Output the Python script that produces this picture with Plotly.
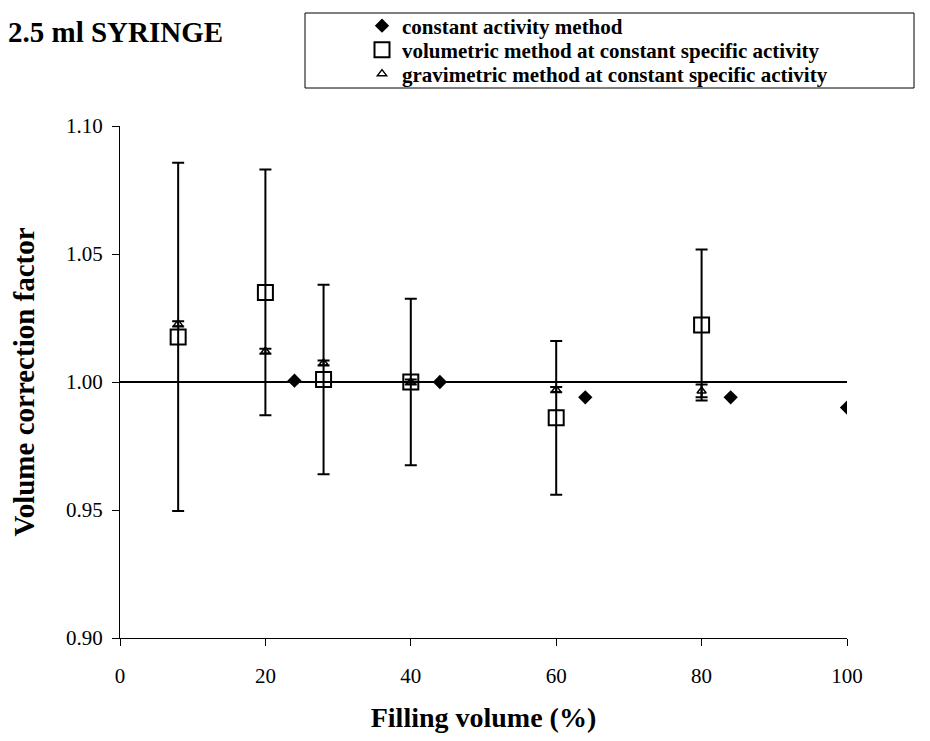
import plotly.graph_objects as go

# Filling volume (%)
x_const = [24, 44, 64, 84, 100]
y_const = [1.0005, 1.000, 0.994, 0.994, 0.990]

x_vol = [8, 20, 28, 40, 60, 80]
y_vol = [1.0176, 1.035, 1.001, 1.000, 0.986, 1.0223]
err_vol = [0.068, 0.048, 0.037, 0.0325, 0.030, 0.0295]

x_grav = [8, 20, 28, 40, 60, 80]
y_grav = [1.0227, 1.012, 1.0074, 1.000, 0.997, 0.9965]
err_grav = [0.001, 0.001, 0.001, 0.001, 0.001, 0.0025]

ref_x = [0, 100]
ref_y = [1.0, 1.0]

FONT = "Liberation Serif"
PX0, PW = 120, 727   # plot area left / width on screen
PY0, PH = 126, 512   # plot area top / height on screen


def px(xs):
    return (xs - PX0) / PW


def py(ys):
    return 1 + (PY0 - ys) / PH


fig = go.Figure()

fig.add_trace(go.Scatter(x=ref_x, y=ref_y, mode="lines",
                         line=dict(color="black", width=2),
                         showlegend=False, hoverinfo="skip"))

fig.add_trace(go.Scatter(
    x=x_const, y=y_const, mode="markers", name="constant activity method",
    legend="legend",
    marker=dict(symbol="diamond", size=11, color="black")))

fig.add_trace(go.Scatter(
    x=x_vol, y=y_vol, mode="markers",
    name="volumetric method at constant specific activity",
    legend="legend2",
    marker=dict(symbol="square-open", size=15, color="black", line=dict(width=2)),
    error_y=dict(type="data", array=err_vol, visible=True, color="black",
                 thickness=2, width=6)))

fig.add_trace(go.Scatter(
    x=x_grav, y=y_grav, mode="markers",
    name="gravimetric method at constant specific activity",
    legend="legend3",
    marker=dict(symbol="triangle-up-open", size=8, color="black", line=dict(width=1.5)),
    error_y=dict(type="data", array=err_grav, visible=True, color="black",
                 thickness=2, width=6)))

leg_font = dict(family=FONT, size=21, color="black", weight="bold")


def leg(ycen):
    return dict(x=px(362), y=py(ycen), xanchor="left", yanchor="middle",
                font=leg_font, bgcolor="rgba(0,0,0,0)", borderwidth=0)


fig.update_layout(
    width=930, height=741,
    margin=dict(l=112, r=91, t=118, b=111, autoexpand=False),
    paper_bgcolor="white", plot_bgcolor="white",
    font=dict(family=FONT, color="black", size=21),
    title=dict(text="<b>2.5 ml SYRINGE</b>", x=0.0, xref="container",
               y=1 - 24 / 741, yref="container", yanchor="middle", xanchor="left",
               font=dict(family=FONT, size=29, color="black")),
    legend=leg(26), legend2=leg(50), legend3=leg(74),
    showlegend=True,
    xaxis=dict(range=[0, 100], tickmode="linear", tick0=0, dtick=20,
               showline=True, linecolor="black", linewidth=1,
               ticks="outside", ticklen=7, tickcolor="black", showgrid=False,
               zeroline=False, tickfont=dict(size=21), ticklabelstandoff=12,
               title=dict(text="<b>Filling volume (%)</b>", font=dict(size=28), standoff=20)),
    yaxis=dict(range=[0.90, 1.10], tickmode="linear", tick0=0.90, dtick=0.05,
               tickformat=".2f",
               showline=True, linecolor="black", linewidth=1,
               ticks="outside", ticklen=7, tickcolor="black", showgrid=False,
               zeroline=False, tickfont=dict(size=21), ticklabelstandoff=5,
               title=dict(text="<b>Volume correction factor</b>", font=dict(size=29), standoff=30)),
    shapes=[dict(type="rect", xref="paper", yref="paper",
                 x0=px(305), x1=px(914), y0=py(88), y1=py(13),
                 line=dict(color="black", width=1), fillcolor="rgba(0,0,0,0)")],
)

fig.write_html("out.html")
